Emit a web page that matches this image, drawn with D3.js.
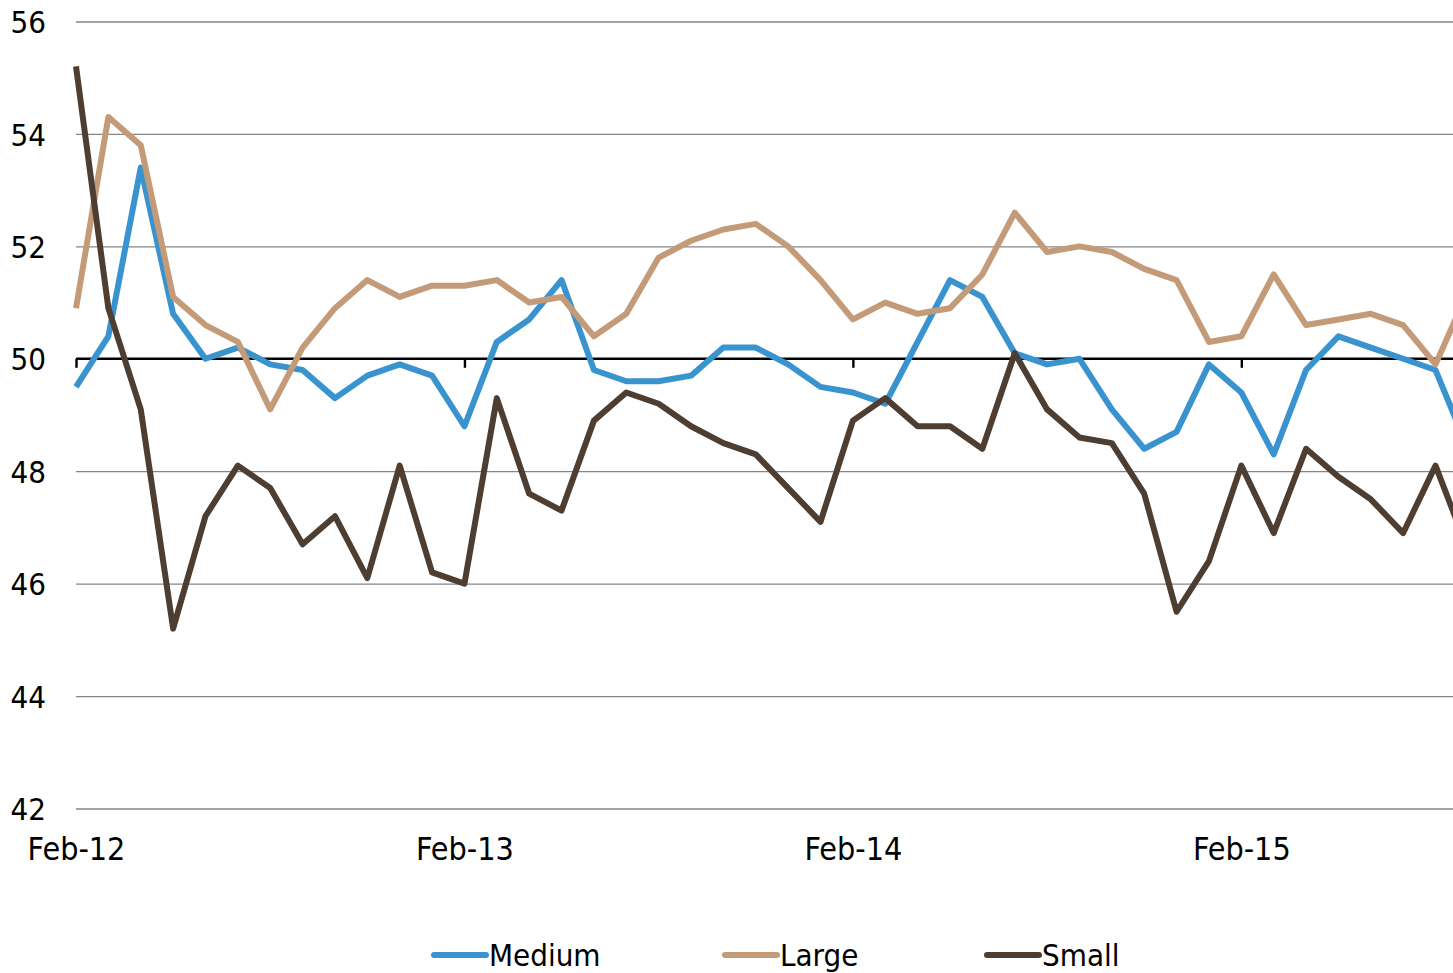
<!DOCTYPE html>
<html>
<head>
<meta charset="utf-8">
<script src="https://cdn.jsdelivr.net/npm/d3@7/dist/d3.min.js"></script>
<style>
  html, body { margin: 0; padding: 0; background: #fff; }
  svg { display: block; }
  svg text { font-family: "DejaVu Sans Condensed", "DejaVu Sans", sans-serif; font-stretch: condensed; }
</style>
</head>
<body>
<svg id="chart" width="1453" height="973"></svg>
<script>
// Monthly PMI readings by company size, Feb-12 onwards
const months = [
  "Feb-12","Mar-12","Apr-12","May-12","Jun-12","Jul-12","Aug-12","Sep-12","Oct-12","Nov-12","Dec-12","Jan-13",
  "Feb-13","Mar-13","Apr-13","May-13","Jun-13","Jul-13","Aug-13","Sep-13","Oct-13","Nov-13","Dec-13","Jan-14",
  "Feb-14","Mar-14","Apr-14","May-14","Jun-14","Jul-14","Aug-14","Sep-14","Oct-14","Nov-14","Dec-14","Jan-15",
  "Feb-15","Mar-15","Apr-15","May-15","Jun-15","Jul-15","Aug-15","Sep-15"
];
const medium = [
  49.5, 50.4, 53.4, 50.8, 50.0, 50.2, 49.9, 49.8, 49.3, 49.7, 49.9, 49.7,
  48.8, 50.3, 50.7, 51.4, 49.8, 49.6, 49.6, 49.7, 50.2, 50.2, 49.9, 49.5,
  49.4, 49.2, 50.3, 51.4, 51.1, 50.1, 49.9, 50.0, 49.1, 48.4, 48.7, 49.9,
  49.4, 48.3, 49.8, 50.4, 50.2, 50.0, 49.8, 48.4
];
const large = [
  50.9, 54.3, 53.8, 51.1, 50.6, 50.3, 49.1, 50.2, 50.9, 51.4, 51.1, 51.3,
  51.3, 51.4, 51.0, 51.1, 50.4, 50.8, 51.8, 52.1, 52.3, 52.4, 52.0, 51.4,
  50.7, 51.0, 50.8, 50.9, 51.5, 52.6, 51.9, 52.0, 51.9, 51.6, 51.4, 50.3,
  50.4, 51.5, 50.6, 50.7, 50.8, 50.6, 49.9, 51.2
];
const small = [
  55.2, 50.9, 49.1, 45.2, 47.2, 48.1, 47.7, 46.7, 47.2, 46.1, 48.1, 46.2,
  46.0, 49.3, 47.6, 47.3, 48.9, 49.4, 49.2, 48.8, 48.5, 48.3, 47.7, 47.1,
  48.9, 49.3, 48.8, 48.8, 48.4, 50.1, 49.1, 48.6, 48.5, 47.6, 45.5, 46.4,
  48.1, 46.9, 48.4, 47.9, 47.5, 46.9, 48.1, 46.6
];
const yTicks = [42, 44, 46, 48, 50, 52, 54, 56];
const xTickLabels = ["Feb-12", "Feb-13", "Feb-14", "Feb-15"];

const series = [
  { name: "Medium", values: medium, color: "#3993cf" },
  { name: "Large",  values: large,  color: "#c49b78" },
  { name: "Small",  values: small,  color: "#4e3d31" }
];

const svg = d3.select("#chart");
const left = 76, step = 32.37;
const labelFont = '"DejaVu Sans Condensed", "DejaVu Sans", sans-serif';

const x = d3.scalePoint()
  .domain(months)
  .range([left, left + step * (months.length - 1)]);

const y = d3.scaleLinear()
  .domain([42, 56])
  .range([808.5, 21.5]);

// horizontal gridlines and y labels
const yAxis = d3.axisLeft(y)
  .tickValues(yTicks)
  .tickSize(-(1453 - left))
  .tickPadding(30)
  .tickFormat(d3.format("d"));

const gy = svg.append("g")
  .attr("transform", `translate(${left},0)`)
  .call(yAxis)
  .attr("font-family", null)
  .attr("font-size", null);
gy.select(".domain").remove();
gy.selectAll(".tick line")
  .attr("stroke", d => d === 50 ? "none" : "#858585")
  .attr("stroke-width", 1.3);
gy.selectAll(".tick text")
  .attr("x", -30)
  .attr("dy", "0.36em")
  .attr("fill", "#000")
  .style("font-family", labelFont)
  .style("font-size", "31px");

// category axis sitting on the 50 line
const xAxis = d3.axisBottom(x)
  .tickValues(xTickLabels)
  .tickSize(9)
  .tickSizeOuter(0);

const gx = svg.append("g")
  .attr("transform", `translate(0,${y(50)})`)
  .call(xAxis)
  .attr("font-family", null)
  .attr("font-size", null);
gx.select(".domain")
  .attr("d", `M${left},0H1453`)
  .attr("stroke", "#000")
  .attr("stroke-width", 2.6);
gx.selectAll(".tick line")
  .attr("stroke", "#000")
  .attr("stroke-width", 2.4);
gx.selectAll(".tick text")
  .attr("y", 848 - y(50))
  .attr("dy", "0.36em")
  .attr("fill", "#000")
  .style("font-family", labelFont)
  .style("font-size", "32px");

// series lines
const line = d3.line()
  .x((d, i) => x(months[i]))
  .y(d => y(d));

svg.append("g")
  .selectAll("path")
  .data(series)
  .join("path")
  .attr("d", s => line(s.values))
  .attr("fill", "none")
  .attr("stroke", s => s.color)
  .attr("stroke-width", 6)
  .attr("stroke-linejoin", "round");

// legend
const legendPos = [432, 723, 985];
const lg = svg.append("g")
  .selectAll("g")
  .data(series)
  .join("g")
  .attr("transform", (s, i) => `translate(${legendPos[i]},955)`);
lg.append("line")
  .attr("x1", 2).attr("x2", 54)
  .attr("stroke", s => s.color)
  .attr("stroke-width", 6)
  .attr("stroke-linecap", "round");
lg.append("text")
  .attr("x", 57)
  .attr("y", 11)
  .attr("fill", "#000")
  .style("font-family", labelFont)
  .style("font-size", "31px")
  .text(s => s.name);
</script>
</body>
</html>
